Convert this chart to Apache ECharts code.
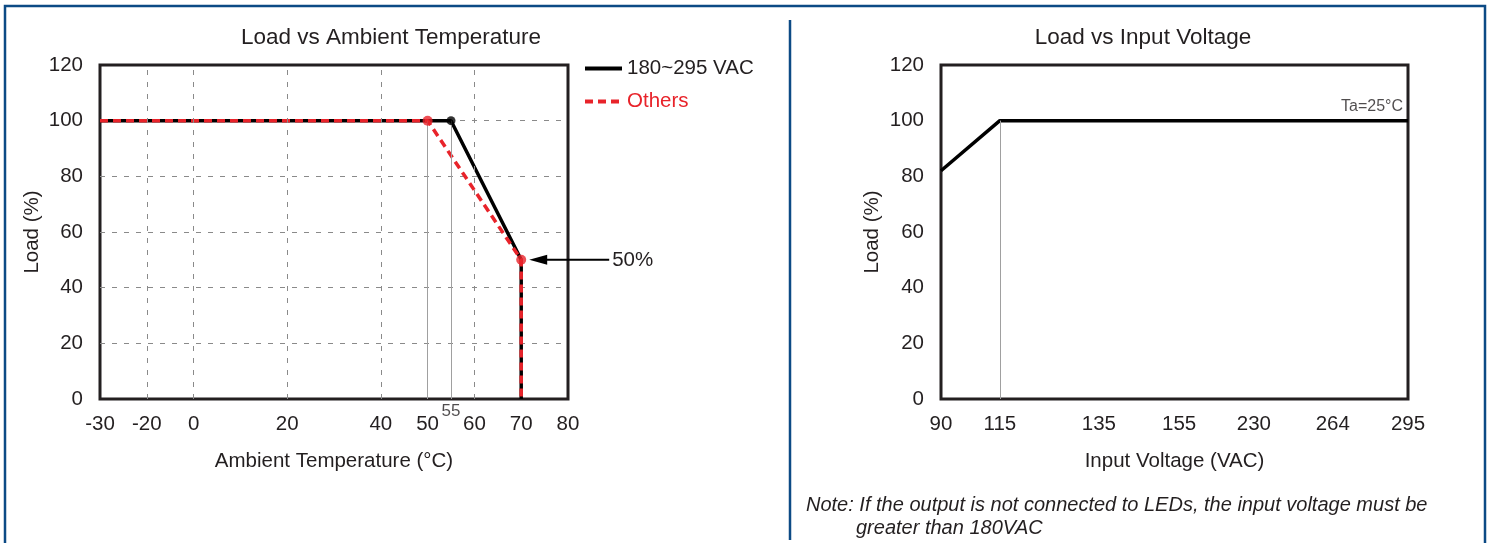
<!DOCTYPE html>
<html>
<head>
<meta charset="utf-8">
<script src="https://cdn.jsdelivr.net/npm/echarts@6/dist/echarts.min.js"></script>
<style>
html,body{margin:0;padding:0;background:#fff;}
#c{width:1495px;height:543px;}
</style>
</head>
<body>
<div id="c"></div>
<script>
// ---------- data ----------
// Left chart: Load vs Ambient Temperature
const tempTicks   = [-30, -20, 0, 20, 40, 50, 60, 70, 80];
const tempTickPos = [0, 1, 2, 4, 6, 7, 8, 9, 10];      // axis scale (non-uniform spacing of the original)
const tempGridDashed = [-20, 0, 20, 40, 60];
const tempGridSolid  = [50, 55];
const vacTemp  = [-30, 55, 70, 70];
const vacLoad  = [100, 100, 50, 0];
const othTemp  = [-30, 50, 70, 70];
const othLoad  = [100, 100, 50, 0];
const vacDots  = [[55, 100]];
const othDots  = [[50, 100], [70, 50]];
const loadTicks = [0, 20, 40, 60, 80, 100, 120];

// Right chart: Load vs Input Voltage
const voltTicks   = [90, 115, 135, 155, 230, 264, 295];
const voltTickPos = [0, 12.6, 33.8, 51.0, 67.0, 83.9, 100];  // axis scale of the original
const voltVals = [90, 115, 295];
const voltLoad = [82, 100, 100];
const voltGridSolid = [115];

// ---------- helpers ----------
function interp(v, xs, ps) {
  for (let i = 0; i < xs.length - 1; i++) {
    if (v <= xs[i + 1]) {
      return ps[i] + (v - xs[i]) / (xs[i + 1] - xs[i]) * (ps[i + 1] - ps[i]);
    }
  }
  return ps[ps.length - 1];
}
const tPos = t => interp(t, tempTicks, tempTickPos);
const vPos = v => interp(v, voltTicks, voltTickPos);
function labelFor(val, ticks, pos) {
  for (let i = 0; i < pos.length; i++) if (Math.abs(pos[i] - val) < 1e-6) return String(ticks[i]);
  return '';
}

const RED = '#e8232a';
const FRAME = '#231f20';
const GRIDC = '#8a8a8a';
const FONT = 'Liberation Sans, Arial, sans-serif';
const FS = 20.5;

const chart = echarts.init(document.getElementById('c'), null, {renderer: 'canvas'});

const axisLabelY = {fontFamily: FONT, fontSize: FS, color: '#231f20', margin: 17};
const axisLabelX = {fontFamily: FONT, fontSize: FS, color: '#231f20', margin: 15};
const nameStyle = {fontFamily: FONT, fontSize: FS, color: '#231f20'};

const option = {
  animation: false,
  backgroundColor: '#fff',
  grid: [
    {left: 100, top: 65, width: 468, height: 334, show: true, borderColor: FRAME, borderWidth: 3, containLabel: false},
    {left: 941, top: 65, width: 467, height: 334, show: true, borderColor: FRAME, borderWidth: 3, containLabel: false}
  ],
  legend: {
    orient: 'vertical', left: 583, top: 58, padding: 0, itemGap: 12,
    itemWidth: 37, itemHeight: 14,
    itemStyle: {opacity: 0},
    lineStyle: {width: 4},
    data: [
      {name: '180~295 VAC', textStyle: {color: '#231f20'}},
      {name: 'Others', textStyle: {color: RED}}
    ],
    textStyle: {fontFamily: FONT, fontSize: FS}
  },
  xAxis: [
    {
      type: 'value', gridIndex: 0, min: 0, max: 10,
      name: 'Ambient Temperature (°C)', nameLocation: 'middle', nameGap: 52, nameTextStyle: nameStyle,
      axisLine: {show: false}, axisTick: {show: false}, splitLine: {show: false},
      axisLabel: Object.assign({customValues: tempTickPos, formatter: v => labelFor(v, tempTicks, tempTickPos)}, axisLabelX)
    },
    {
      type: 'value', gridIndex: 1, min: 0, max: 100,
      name: 'Input Voltage (VAC)', nameLocation: 'middle', nameGap: 52, nameTextStyle: nameStyle,
      axisLine: {show: false}, axisTick: {show: false}, splitLine: {show: false},
      axisLabel: Object.assign({customValues: voltTickPos, formatter: v => labelFor(v, voltTicks, voltTickPos)}, axisLabelX)
    }
  ],
  yAxis: [
    {
      type: 'value', gridIndex: 0, min: 0, max: 120, interval: 20,
      name: 'Load (%)', nameLocation: 'middle', nameGap: 57, nameTextStyle: nameStyle,
      axisLine: {show: false}, axisTick: {show: false},
      splitLine: {show: true, lineStyle: {color: ['transparent', GRIDC, GRIDC, GRIDC, GRIDC, GRIDC, 'transparent'], type: [5, 7], width: 1}},
      axisLabel: axisLabelY
    },
    {
      type: 'value', gridIndex: 1, min: 0, max: 120, interval: 20,
      name: 'Load (%)', nameLocation: 'middle', nameGap: 58, nameTextStyle: nameStyle,
      axisLine: {show: false}, axisTick: {show: false}, splitLine: {show: false},
      axisLabel: axisLabelY
    }
  ],
  series: [
    // vertical guide lines (left)
    {
      type: 'line', xAxisIndex: 0, yAxisIndex: 0, data: [], z: 1, silent: true,
      markLine: {
        silent: true, symbol: 'none', label: {show: false}, animation: false,
        data: tempGridDashed.map(t => ({xAxis: tPos(t), lineStyle: {color: GRIDC, type: [5, 7], width: 1}}))
          .concat(tempGridSolid.map(t => [
            {coord: [tPos(t), 0], lineStyle: {color: '#a0a0a0', type: 'solid', width: 1}},
            {coord: [tPos(t), 100]}
          ]))
      }
    },
    // vertical guide line (right)
    {
      type: 'line', xAxisIndex: 1, yAxisIndex: 1, data: [], z: 1, silent: true,
      markLine: {
        silent: true, symbol: 'none', label: {show: false}, animation: false,
        data: voltGridSolid.map(v => [
          {coord: [vPos(v), 0], lineStyle: {color: '#a0a0a0', type: 'solid', width: 1}},
          {coord: [vPos(v), 100]}
        ])
      }
    },
    {
      name: '180~295 VAC', type: 'line', xAxisIndex: 0, yAxisIndex: 0, z: 3,
      symbol: 'none', clip: false,
      lineStyle: {color: '#000', width: 3.5, type: 'solid'},
      itemStyle: {color: '#000'},
      data: vacTemp.map((t, i) => [tPos(t), vacLoad[i]])
    },
    {
      name: 'Others', type: 'line', xAxisIndex: 0, yAxisIndex: 0, z: 4,
      symbol: 'none', clip: false,
      lineStyle: {color: RED, width: 3.5, type: [8, 5]},
      itemStyle: {color: RED},
      data: othTemp.map((t, i) => [tPos(t), othLoad[i]])
    },
    {
      type: 'scatter', xAxisIndex: 0, yAxisIndex: 0, z: 5, symbolSize: 9, silent: true,
      itemStyle: {color: '#000'},
      data: vacDots.map(d => [tPos(d[0]), d[1]])
    },
    {
      type: 'scatter', xAxisIndex: 0, yAxisIndex: 0, z: 6, symbolSize: 10, silent: true,
      itemStyle: {color: RED},
      data: othDots.map(d => [tPos(d[0]), d[1]])
    },
    // "55" extra tick label
    {
      type: 'scatter', xAxisIndex: 0, yAxisIndex: 0, z: 6, symbolSize: 0, silent: true, clip: false,
      label: {show: true, position: 'inside', offset: [0, 12], formatter: '55', fontFamily: FONT, fontSize: 17, color: '#231f20'},
      data: [[tPos(55), 0]]
    },
    {
      name: 'Ta=25°C', type: 'line', xAxisIndex: 1, yAxisIndex: 1, z: 3,
      symbol: 'none', clip: false,
      lineStyle: {color: '#000', width: 3.5},
      data: voltVals.map((v, i) => [vPos(v), voltLoad[i]])
    },
    {
      type: 'scatter', xAxisIndex: 1, yAxisIndex: 1, z: 6, symbolSize: 0, silent: true, clip: false,
      label: {show: true, position: 'inside', align: 'right', offset: [-5, -14], formatter: 'Ta=25°C', fontFamily: FONT, fontSize: 16, color: '#231f20'},
      data: [[vPos(295), 100]]
    }
  ]
};
chart.setOption(option);

// ---------- annotations / frame ----------
const p50 = chart.convertToPixel({gridIndex: 0}, [tPos(70), 50]);
const ax = p50[0], ay = p50[1];
chart.setOption({
  graphic: {
    elements: [
      {type: 'rect', silent: true, shape: {x: 5, y: 6, width: 1480, height: 600},
       style: {fill: 'none', stroke: '#0c4a85', lineWidth: 2.5}},
      {type: 'line', silent: true, shape: {x1: 790, y1: 20, x2: 790, y2: 540},
       style: {stroke: '#0c4a85', lineWidth: 2.5}},
      {type: 'text', silent: true, x: 391, y: 38,
       style: {text: 'Load vs Ambient Temperature', fontFamily: FONT, fontSize: 22.5, fill: '#231f20', align: 'center', verticalAlign: 'middle'}},
      {type: 'text', silent: true, x: 1143, y: 38,
       style: {text: 'Load vs Input Voltage', fontFamily: FONT, fontSize: 22.5, fill: '#231f20', align: 'center', verticalAlign: 'middle'}},
      // arrow to 50%
      {type: 'line', silent: true, shape: {x1: ax + 88, y1: ay, x2: ax + 22, y2: ay},
       style: {stroke: '#000', lineWidth: 2}},
      {type: 'polygon', silent: true, shape: {points: [[ax + 8, ay], [ax + 26, ay - 5], [ax + 26, ay + 5]]},
       style: {fill: '#000'}},
      {type: 'text', silent: true, x: ax + 91, y: ay + 1,
       style: {text: '50%', fontFamily: FONT, fontSize: FS, fill: '#231f20', align: 'left', verticalAlign: 'middle'}},
      // note
      {type: 'text', silent: true, x: 806, y: 505,
       style: {text: 'Note: If the output is not connected to LEDs, the input voltage must be', fontFamily: FONT, fontStyle: 'italic', fontSize: 20, fill: '#231f20', align: 'left', verticalAlign: 'middle'}},
      {type: 'text', silent: true, x: 856, y: 528,
       style: {text: 'greater than 180VAC', fontFamily: FONT, fontStyle: 'italic', fontSize: 20, fill: '#231f20', align: 'left', verticalAlign: 'middle'}}
    ]
  }
});
</script>
</body>
</html>
